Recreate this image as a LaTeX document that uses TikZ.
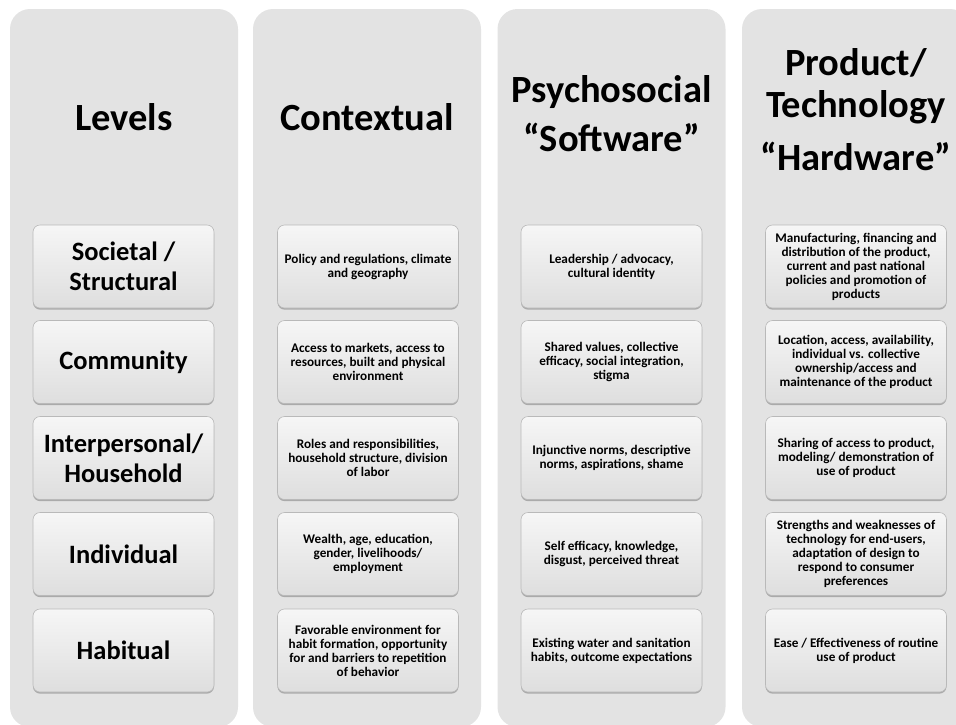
\documentclass[tikz,border=0pt]{standalone}
\usepackage{fontspec}
\setmainfont{Carlito}
\usetikzlibrary{shadows}

\definecolor{panelgray}{RGB}{227,227,227}
\definecolor{celltop}{RGB}{246,246,246}
\definecolor{cellbot}{RGB}{222,222,222}
\definecolor{cellline}{RGB}{185,185,185}

\begin{document}
\begin{tikzpicture}[x=1pt,y=-1pt,
  panel/.style={fill=panelgray, rounded corners=20pt, minimum width=228pt, minimum height=718pt, inner sep=0pt},
  cell/.style={rounded corners=7pt, draw=cellline, line width=0.6pt, top color=celltop, bottom color=cellbot,
    minimum width=181pt, minimum height=83pt, align=center, inner sep=2pt,
    drop shadow={shadow xshift=0pt, shadow yshift=-1.6pt, fill=black!60, opacity=.45}},
  level/.style={cell, font=\bfseries\fontsize{26.5}{30}\selectfont},
  item/.style={cell, font=\bfseries\fontsize{13.2}{14}\selectfont},
  heading/.style={font=\bfseries\fontsize{38.5}{44}\selectfont, align=center, inner sep=0pt}]
\useasboundingbox (0,0) rectangle (956,724);

% Panels
\draw (124,368) node [panel] (pnlLevels) {};
\draw (367,368) node [panel] (pnlContext) {};
\draw (611.5,368) node [panel] (pnlSoft) {};
\draw (856,368) node [panel] (pnlHard) {};

% Headings
\draw (124,130) node [heading, anchor=base] (hdLevels) {Levels};
\draw (367,130) node [heading, anchor=base] (hdContext) {Contextual};
\draw (611.5,151) node [heading, anchor=base] (hdSoft) {Psychosocial\\[5pt]“Software”};
\draw (856,170) node [heading, anchor=base] (hdHard) {Product/\\[-2pt]Technology\\[9pt]“Hardware”};

% Levels
\draw (123.5,266.5) node [level] (lvl1) {Societal /\\Structural};
\draw (123.5,362) node [level] (lvl2) {Community};
\draw (123.5,458) node [level] (lvl3) {Interpersonal/\\Household};
\draw (123.5,554) node [level] (lvl4) {Individual};
\draw (123.5,650.5) node [level] (lvl5) {Habitual};

% Contextual
\draw (368,266.5) node [item] (ctx1) {Policy and regulations, climate\\and geography};
\draw (368,362) node [item] (ctx2) {Access to markets, access to\\resources, built and physical\\environment};
\draw (368,458) node [item] (ctx3) {Roles and responsibilities,\\household structure, division\\of labor};
\draw (368,554) node [item] (ctx4) {Wealth, age, education,\\gender, livelihoods/\\employment};
\draw (368,650.5) node [item] (ctx5) {Favorable environment for\\habit formation, opportunity\\for and barriers to repetition\\of behavior};

% Psychosocial
\draw (611.5,266.5) node [item] (psy1) {Leadership / advocacy,\\cultural identity};
\draw (611.5,362) node [item] (psy2) {Shared values, collective\\efficacy, social integration,\\stigma};
\draw (611.5,458) node [item] (psy3) {Injunctive norms, descriptive\\norms, aspirations, shame};
\draw (611.5,554) node [item] (psy4) {Self efficacy, knowledge,\\disgust, perceived threat};
\draw (611.5,650.5) node [item] (psy5) {Existing water and sanitation\\habits, outcome expectations};

% Product / Technology
\draw (856,266.5) node [item] (prd1) {Manufacturing, financing and\\distribution of the product,\\current and past national\\policies and promotion of\\products};
\draw (856,362) node [item] (prd2) {Location, access, availability,\\individual vs. collective\\ownership/access and\\maintenance of the product};
\draw (856,458) node [item] (prd3) {Sharing of access to product,\\modeling/ demonstration of\\use of product};
\draw (856,554) node [item] (prd4) {Strengths and weaknesses of\\technology for end-users,\\adaptation of design to\\respond to consumer\\preferences};
\draw (856,650.5) node [item] (prd5) {Ease / Effectiveness of routine\\use of product};

\end{tikzpicture}
\end{document}
